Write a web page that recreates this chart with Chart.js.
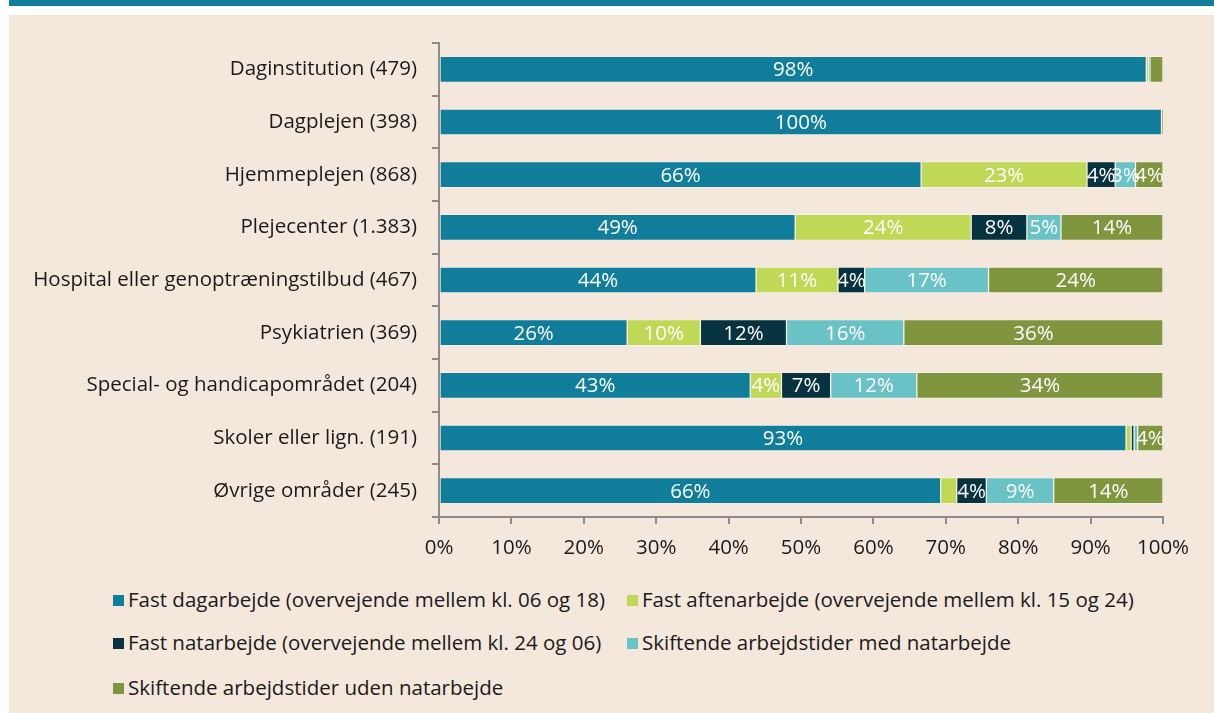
<!DOCTYPE html>
<html>
<head>
<meta charset="utf-8">
<script src="https://cdn.jsdelivr.net/npm/chart.js@4.4.1/dist/chart.umd.min.js"></script>
<style>
  html, body { margin: 0; padding: 0; background: #fff; }
  body { width: 1214px; height: 713px; position: relative; overflow: hidden; font-family: "Open Sans", "Noto Sans", sans-serif; }
  #band { position: absolute; left: 9px; top: 0; width: 1205px; height: 6px; background: #0f7e9b; }
  #panel { position: absolute; left: 9px; top: 15px; width: 1205px; height: 698px; background: #f4e8dc; }
  #wrap { position: absolute; left: 0; top: 0; width: 1214px; height: 575px; }
  #legend { position: absolute; left: 113px; top: 586px; width: 1080px; font-size: 20.5px; color: #1a1a1a; }
  .item { position: absolute; white-space: nowrap; line-height: 26px; }
  .box { display: inline-block; width: 11px; height: 11px; margin-right: 4px; vertical-align: 1px; }
</style>
</head>
<body>
<div id="band"></div>
<div id="panel"></div>
<div id="wrap"><canvas id="chart"></canvas></div>
<div id="legend"></div>
<script>
const categories = [
  'Daginstitution (479)',
  'Dagplejen (398)',
  'Hjemmeplejen (868)',
  'Plejecenter (1.383)',
  'Hospital eller genoptræningstilbud (467)',
  'Psykiatrien (369)',
  'Special- og handicapområdet (204)',
  'Skoler eller lign. (191)',
  'Øvrige områder (245)'
];

const seriesNames = [
  'Fast dagarbejde (overvejende mellem kl. 06 og 18)',
  'Fast aftenarbejde (overvejende mellem kl. 15 og 24)',
  'Fast natarbejde (overvejende mellem kl. 24 og 06)',
  'Skiftende arbejdstider med natarbejde',
  'Skiftende arbejdstider uden natarbejde'
];
const colors = ['#107e9b', '#bfd856', '#07323f', '#69c2c6', '#7f963e'];

// bar widths (%)
const dagarbejde   = [97.7, 99.8, 66.6, 49.2, 43.8, 26.0, 43.0, 94.9, 69.3];
const aftenarbejde = [0.3, 0, 22.9, 24.3, 11.3, 10.1, 4.3, 0.7, 2.2];
const natarbejde   = [0, 0, 3.9, 7.7, 3.7, 11.9, 6.8, 0.4, 4.1];
const skiftMedNat  = [0.2, 0, 2.8, 4.7, 17.1, 16.2, 11.9, 0.5, 9.3];
const skiftUdenNat = [1.8, 0.2, 3.8, 14.1, 24.1, 35.8, 34.0, 3.5, 15.1];

// printed labels as in the picture (null = no label)
const dagLabels   = ['98%', '100%', '66%', '49%', '44%', '26%', '43%', '93%', '66%'];
const aftenLabels = [null, null, '23%', '24%', '11%', '10%', '4%', null, null];
const natLabels   = [null, null, '4%', '8%', '4%', '12%', '7%', null, '4%'];
const medLabels   = [null, null, '3%', '5%', '17%', '16%', '12%', null, '9%'];
const udenLabels  = [null, null, '4%', '14%', '24%', '36%', '34%', '4%', '14%'];

const xTicks = [0, 10, 20, 30, 40, 50, 60, 70, 80, 90, 100];

const values = [dagarbejde, aftenarbejde, natarbejde, skiftMedNat, skiftUdenNat];
const labelSets = [dagLabels, aftenLabels, natLabels, medLabels, udenLabels];

const font = "'Open Sans', 'Noto Sans', sans-serif";
const fs = 20.5;

const barLabels = {
  id: 'barLabels',
  afterDatasetsDraw(chart) {
    const ctx = chart.ctx;
    ctx.save();
    ctx.font = fs + 'px ' + font;
    ctx.fillStyle = '#ffffff';
    ctx.textAlign = 'center';
    ctx.textBaseline = 'middle';
    chart.data.datasets.forEach((ds, i) => {
      chart.getDatasetMeta(i).data.forEach((bar, j) => {
        const t = labelSets[i][j];
        if (!t) return;
        ctx.fillText(t, (bar.x + bar.base) / 2, bar.y + 1);
      });
    });
    ctx.restore();
  }
};

new Chart(document.getElementById('chart'), {
  type: 'bar',
  data: {
    labels: categories,
    datasets: seriesNames.map((n, i) => ({
      label: n,
      data: values[i],
      backgroundColor: colors[i],
      borderColor: 'rgba(255,255,255,0.3)',
      borderWidth: 1,
      borderSkipped: false,
      barThickness: 26
    }))
  },
  options: {
    indexAxis: 'y',
    responsive: true,
    maintainAspectRatio: false,
    animation: false,
    layout: { padding: { top: 43, right: 51, left: 0, bottom: 0 } },
    plugins: { legend: { display: false }, tooltip: { enabled: false } },
    scales: {
      x: {
        stacked: true,
        min: 0, max: 100,
        afterBuildTicks: s => { s.ticks = xTicks.map(v => ({ value: v })); },
        afterFit: s => { s.height = 58; },
        ticks: { callback: v => v + '%', color: '#1a1a1a', font: { family: font, size: fs }, padding: 12, maxRotation: 0 },
        grid: { drawOnChartArea: false, drawTicks: true, tickLength: 7, color: '#8c8c8c', lineWidth: 2 },
        border: { color: '#8c8c8c', width: 2 }
      },
      y: {
        stacked: true,
        afterFit: s => { s.width = 439; },
        ticks: { color: '#1a1a1a', font: { family: font, size: fs }, padding: 15 },
        grid: { offset: true, drawOnChartArea: false, drawTicks: true, tickLength: 7, color: '#8c8c8c', lineWidth: 2 },
        border: { color: '#8c8c8c', width: 2 }
      }
    }
  },
  plugins: [barLabels]
});

// legend in two columns like the original
const legend = document.getElementById('legend');
const pos = [[0, 0], [514, 0], [0, 43], [514, 43], [0, 88]];
seriesNames.forEach((n, i) => {
  const d = document.createElement('div');
  d.className = 'item';
  d.style.left = pos[i][0] + 'px';
  d.style.top = pos[i][1] + 'px';
  d.innerHTML = '<span class="box" style="background:' + colors[i] + '"></span>' + n;
  legend.appendChild(d);
});
</script>
</body>
</html>
